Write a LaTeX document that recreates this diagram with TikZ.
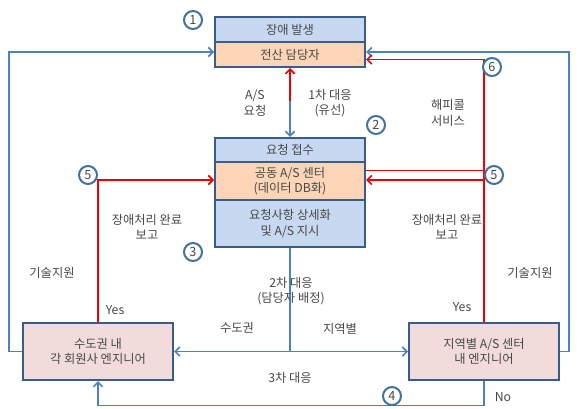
\documentclass[tikz,border=0pt]{standalone}
\usepackage{fontspec}
\setmainfont{Noto Sans CJK KR}
\usetikzlibrary{arrows.meta,calc}
\definecolor{bfill}{HTML}{C6D9F1}
\definecolor{ofill}{HTML}{FBD5B5}
\definecolor{pfill}{HTML}{F2DCDB}
\definecolor{bord}{HTML}{385D8A}
\definecolor{cblue}{HTML}{4F81BD}
\definecolor{cred}{HTML}{F00000}
\definecolor{txt}{HTML}{484848}
\definecolor{circ}{HTML}{41719C}
\begin{document}
\begin{tikzpicture}[x=0.75pt,y=-0.75pt,
  font=\fontsize{9.2}{11.5}\selectfont, text=txt,
  box/.style={draw=bord, line width=1.5pt, minimum width=112.5pt, align=center, inner sep=0pt},
  bl/.style={draw=cblue, line width=1.4pt},
  rd/.style={draw=cred, line width=1.4pt},
  tip/.style={-{Straight Barb[length=3.5pt,width=7pt,line width=1.2pt]}},
  num/.style={circle, draw=circ, line width=1.5pt, fill=white, minimum size=13.5pt, inner sep=0pt, font=\fontsize{9.5}{9.5}\selectfont},
  lab/.style={align=center, inner sep=0pt}]
\useasboundingbox (0,0) rectangle (580,409);

% boxes
\node[box, fill=bfill, minimum height=18.75pt] (T1) at (290,29.5) {장애 발생};
\node[box, fill=ofill, minimum height=18.75pt] (T2) at (290,54.5) {전산 담당자};
\node[box, fill=bfill, minimum height=18pt] (M1) at (290,150) {요청 접수};
\node[box, fill=ofill, minimum height=28.5pt] (M2) at (290,181) {공동 A/S 센터\\(데이터 DB화)};
\node[box, fill=bfill, minimum height=35.25pt] (M3) at (290,223.5) {요청사항 상세화\\및 A/S 지시};
\node[box, fill=pfill, minimum height=42.75pt] (L) at (98,351.5) {수도권 내\\각 회원사 엔지니어};
\node[box, fill=pfill, minimum height=42.75pt] (R) at (484,351.5) {지역별 A/S 센터\\내 엔지니어};

% helper coordinates
\coordinate (yb) at (0,52);
\coordinate (y6) at (0,59.5);
\coordinate (y5a) at (0,170.5);
\coordinate (y5b) at (0,180);
\coordinate (mid) at (290,101);
\coordinate (jn) at (290,351.5);

% connectors
\draw[rd,tip] (mid) -- (T2.south);
\draw[bl,tip] (mid) -- (M1.north);
\draw[bl,tip] (L.west) -- ++(-13,0) |- (T2.west |- yb);
\draw[bl,tip] (R.east) -- ++(9,0) |- (T2.east |- yb);
\draw[rd,tip] (R.north) |- (T2.east |- y6);
\draw[rd] (R.north |- y5a) -- (M2.east |- y5a);
\draw[rd,tip] (R.north) |- (M2.east |- y5b);
\draw[rd,tip] (L.north) |- (M2.west |- y5b);
\draw[bl] (M3.south) -- (jn);
\draw[bl,tip] (jn) -- (L.east);
\draw[bl,tip] (jn) -- (R.west);
\draw[bl,tip] (R.south) -- ++(0,24.5) -| (L.south);

% labels
\node[lab] (l1) at (255,103) {A/S\\요청};
\node[lab] (l2) at (330,103) {1차 대응\\(유선)};
\node[lab] (l3) at (448,113) {해피콜\\서비스};
\node[lab] (l4) at (147,227) {장애처리 완료\\보고};
\node[lab] (l5) at (447,227) {장애처리 완료\\보고};
\node[lab] (l6) at (52,273) {기술지원};
\node[lab] (l7) at (530,273) {기술지원};
\node[lab] (l8) at (115,310) {Yes};
\node[lab] (l9) at (462,307) {Yes};
\node[lab] (l10) at (291,291) {2차 대응\\(담당자 배정)};
\node[lab] (l11) at (237,328) {수도권};
\node[lab] (l12) at (340,329) {지역별};
\node[lab] (l13) at (290,378) {3차 대응};
\node[lab] (l14) at (503,397) {No};

% numbered circles
\node[num] (c1) at (193,20) {1};
\node[num] (c2) at (376,125) {2};
\node[num] (c3) at (193,252) {3};
\node[num] (c4) at (392,396) {4};
\node[num] (c5a) at (88,175) {5};
\node[num] (c5b) at (494,175) {5};
\node[num] (c6) at (492,67) {6};
\end{tikzpicture}
\end{document}
